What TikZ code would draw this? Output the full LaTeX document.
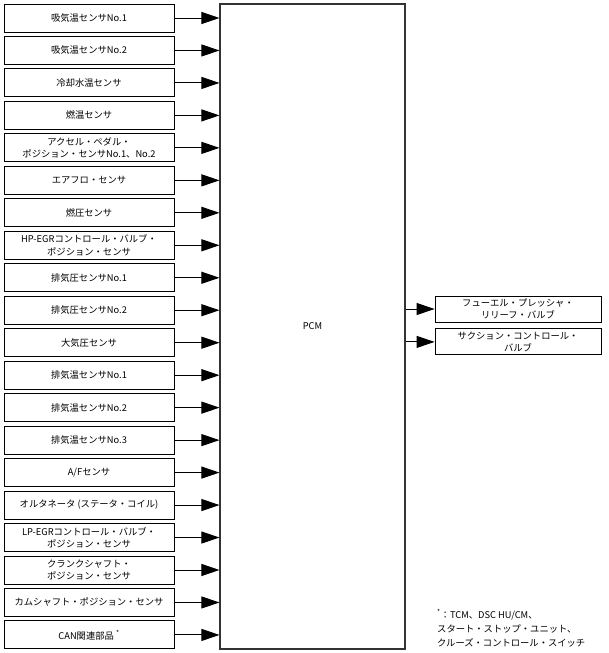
\documentclass[tikz,border=0pt]{standalone}
\usepackage{fontspec}
\setmainfont{Noto Sans CJK JP}
\usepackage{tikz}
\usetikzlibrary{arrows.meta, positioning}

\begin{document}
\begin{tikzpicture}[x=1pt, y=-1pt, line join=miter,
    font=\fontsize{9.3}{12.5}\selectfont,
    sensorbox/.style={draw, line width=0.9pt, minimum width=170pt, minimum height=28pt,
      align=center, inner sep=1pt},
    actbox/.style={draw, line width=0.9pt, minimum width=166pt, minimum height=26pt,
      align=center, inner sep=1pt},
    sig/.style={line width=0.9pt, -{Triangle[length=18pt, width=12pt]}}]
  \useasboundingbox (0,0) rectangle (608,653);
  % PCM
  \node[draw, line width=1.1pt, draw=black!80, minimum width=185pt, minimum height=645pt, inner sep=0pt]
    (pcm) at (312.5,326.5) {PCM};
  % Eingänge (Sensoren)
  \foreach \i/\txt in {1/{吸気温センサNo.1}, 2/{吸気温センサNo.2}, 3/{冷却水温センサ},
      4/{燃温センサ}, 5/{アクセル・ペダル・\\ポジション・センサNo.1、No.2},
      6/{エアフロ・センサ}, 7/{燃圧センサ},
      8/{HP-EGRコントロール・バルブ・\\ポジション・センサ},
      9/{排気圧センサNo.1}, 10/{排気圧センサNo.2}, 11/{大気圧センサ},
      12/{排気温センサNo.1}, 13/{排気温センサNo.2}, 14/{排気温センサNo.3},
      15/{A/Fセンサ}, 16/{オルタネータ (ステータ・コイル)},
      17/{LP-EGRコントロール・バルブ・\\ポジション・センサ},
      18/{クランクシャフト・\\ポジション・センサ},
      19/{カムシャフト・ポジション・センサ}, 20/{CAN関連部品 \textsuperscript{*}}} {
    \node[sensorbox] (s\i) at (89, {18 + (\i-1)*32.47}) {\txt};
    \draw[sig] (s\i.east) -- (s\i.east -| pcm.west);
  }
  % Ausgänge (Aktuatoren)
  \node[actbox] (a1) at (518,309) {フューエル・プレッシャ・\\リリーフ・バルブ};
  \node[actbox, below=6pt of a1] (a2) {サクション・コントロール・\\バルブ};
  \draw[sig] (a1.west -| pcm.east) -- (a1.west);
  \draw[sig] (a2.west -| pcm.east) -- (a2.west);
  % Fußnote
  \node[anchor=north west, align=left, inner sep=0pt, font=\fontsize{9.3}{14}\selectfont]
    (note) at (437,609) {\textsuperscript{*}：TCM、DSC HU/CM、\\スタート・ストップ・ユニット、\\クルーズ・コントロール・スイッチ};
\end{tikzpicture}
\end{document}
